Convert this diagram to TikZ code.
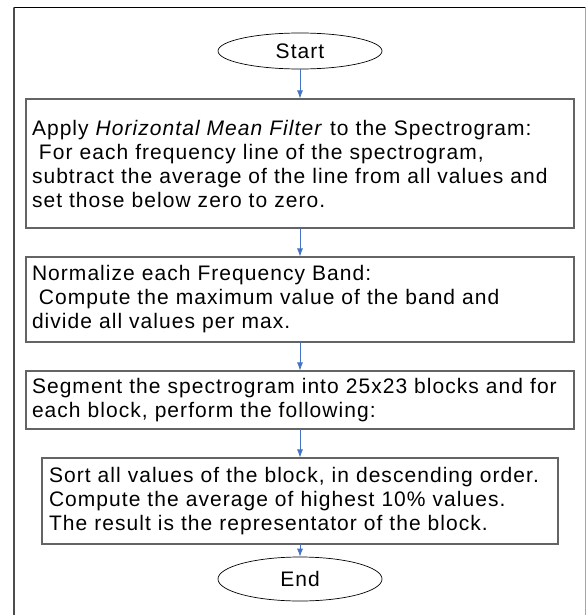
\documentclass[tikz,border=0pt]{standalone}
\usepackage{fontspec}
\setmainfont{Liberation Sans}[LetterSpace=5]
\usetikzlibrary{arrows.meta,shapes.geometric}

\definecolor{flowblue}{RGB}{68,114,196}
\definecolor{boxgray}{RGB}{100,100,100}

\tikzset{
    stepbox/.style = {draw = boxgray, line width = 1.1pt, rectangle,
        minimum width = 548pt, text width = 536pt, inner xsep = 6pt,
        align = left, font = \fontsize{21}{24}\selectfont},
    term/.style = {draw, ellipse, line width = 0.7pt, inner sep = 0pt,
        minimum width = 164pt, font = \fontsize{21}{24}\selectfont},
    flow/.style = {->, draw = flowblue, line width = 0.8pt}
}

\begin{document}
\begin{tikzpicture}[%
        x = 1pt,
        y = -1pt,
        line cap = round,
        > = {Latex[length = 8pt, width = 6pt]}
    ]

        \useasboundingbox (0, 0) rectangle (586, 615);

        % The frame round the chart, open at the bottom.
        \draw[line width = 1pt] (14, 8) to (585, 8);
        \draw[line width = 1.2pt, black!70] (14, 8) to (14, 615);
        \draw[line width = 1pt, black!35] (585, 8) to (585, 615);

        % Terminals and the four steps.
        \node[term, minimum height = 36pt] (start) at (300, 51) {Start};

        \node[stepbox, minimum height = 129pt] (filter) at (300, 163.5)
            {Apply \textit{Horizontal Mean Filter} to the Spectrogram:\\
             ~For each frequency line of the spectrogram,\\
             subtract the average of the line from all values and\\
             set those below zero to zero.};

        \node[stepbox, minimum height = 85pt] (normalize) at (300, 299.5)
            {Normalize each Frequency Band:\\
             ~Compute the maximum value of the band and\\
             divide all values per max.};

        \node[stepbox, minimum height = 58pt] (segment) at (300, 400)
            {Segment the spectrogram into 25x23 blocks and for\\
             each block, perform the following:};

        \node[stepbox, minimum width = 516pt, text width = 502pt,
            inner xsep = 7pt, minimum height = 86pt] (sortblock) at (300, 501)
            {Sort all values of the block, in descending order.\\
             Compute the average of highest 10\% values.\\
             The result is the representator of the block.};

        \node[term, minimum height = 44pt] (end) at (300, 579) {End};

        % Connectors.
        \draw[flow] (start) to (filter);
        \draw[flow] (filter) to (normalize);
        \draw[flow] (normalize) to (segment);
        \draw[flow] (segment) to (sortblock);
        \draw[flow] (sortblock) to (end);
    \end{tikzpicture}
\end{document}
